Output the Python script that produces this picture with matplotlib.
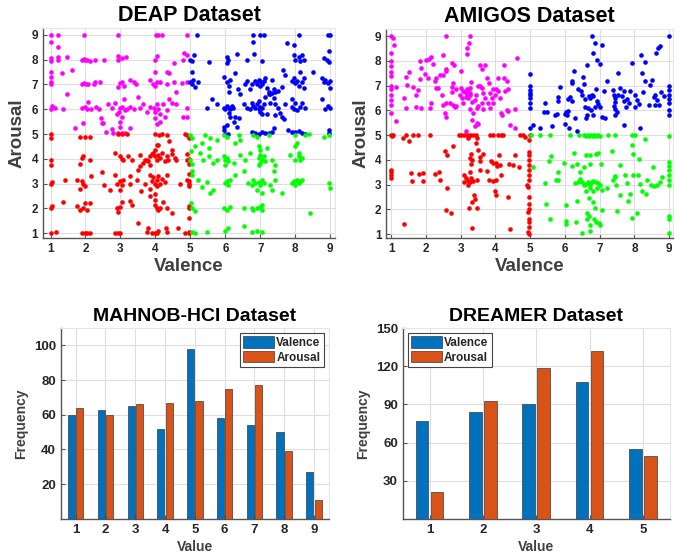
import numpy as np
import matplotlib.pyplot as plt

# ---- DEAP scatter (valence, arousal) ----
deap_magenta = [
    (1.0, 9.0), (1.22, 9.0), (1.96, 9.0), (2.92, 9.0), (4.03, 9.0), (4.08, 9.0), (4.18, 9.0), (4.9, 9.0),
    (1.0, 8.7), (1.22, 8.5), (1.0, 8.05), (1.0, 7.95), (1.22, 8.1), (1.22, 7.97), (1.46, 8.1),
    (1.62, 7.6), (1.34, 7.45), (1.9, 8.0), (1.96, 8.02), (2.0, 7.98), (2.05, 8.0), (2.13, 7.94),
    (2.27, 8.0), (2.53, 8.0), (2.94, 8.0), (3.03, 8.05), (3.16, 8.1), (2.94, 8.15), (4.0, 8.0),
    (4.04, 8.15), (4.33, 7.5), (4.38, 7.45), (4.52, 7.85), (4.8, 8.0), (4.9, 8.2), (4.82, 8.25),
    (1.0, 7.0), (1.0, 7.1), (1.0, 7.3), (1.0, 7.5), (1.9, 7.0), (1.96, 7.05), (2.02, 7.0),
    (2.08, 7.02), (2.27, 7.1), (2.42, 7.1), (2.23, 7.0), (2.94, 6.9), (2.99, 7.05), (3.04, 7.1),
    (3.1, 6.95), (3.27, 7.2), (3.4, 7.1), (3.45, 7.0), (3.85, 7.2), (3.92, 7.0), (4.0, 6.95),
    (4.04, 7.1), (4.0, 7.5), (4.14, 7.1), (4.33, 7.0), (4.52, 7.1), (4.6, 6.7), (4.75, 7.05),
    (4.9, 7.1), (1.46, 6.6),
    (1.0, 6.0), (1.05, 6.15), (1.12, 6.05), (1.36, 6.0), (1.9, 6.05), (1.98, 6.1), (2.03, 6.02),
    (2.08, 6.3), (2.17, 6.0), (2.3, 6.1), (2.4, 6.0), (2.45, 5.65), (2.5, 5.45), (2.65, 6.2),
    (2.75, 6.05), (2.84, 6.25), (2.95, 5.9), (3.0, 6.05), (3.05, 6.1), (3.12, 5.95), (3.2, 6.0),
    (2.9, 5.8), (3.03, 5.7), (3.1, 6.4), (3.27, 6.1), (3.4, 6.0), (3.51, 6.5), (3.56, 6.05),
    (3.65, 6.2), (3.75, 5.9), (3.85, 6.1), (3.95, 6.05), (4.0, 5.9), (4.04, 6.2), (4.08, 6.0),
    (4.13, 5.8), (4.0, 5.65), (4.13, 5.5), (4.23, 6.2), (4.33, 5.95), (4.28, 5.7), (4.38, 6.4),
    (4.47, 6.25), (4.6, 6.2), (4.8, 5.7), (4.9, 6.05), (4.9, 5.7), (4.04, 5.4),
    (1.7, 5.25), (1.94, 5.45), (2.47, 5.45), (2.6, 5.1), (2.75, 5.2), (2.8, 5.05), (2.94, 5.05),
    (3.04, 5.05), (3.13, 5.05), (2.99, 5.3), (3.27, 5.25), (2.99, 5.5),
]
deap_red = [
    (1.0, 5.0), (1.0, 4.85), (1.84, 4.9), (1.98, 4.9), (2.13, 4.9), (2.94, 5.0), (3.04, 5.0),
    (3.2, 5.02), (4.0, 5.0), (4.1, 4.95), (4.18, 5.0), (4.04, 4.55), (4.33, 4.97), (4.39, 4.7),
    (4.85, 5.0), (4.9, 4.95),
    (1.0, 3.95), (1.0, 3.75), (1.94, 4.1), (1.9, 4.05), (1.84, 3.8), (2.13, 3.95), (2.84, 4.25),
    (2.99, 4.1), (3.04, 4.0), (3.08, 3.95), (3.22, 4.1), (3.32, 3.95), (3.27, 3.3), (3.56, 3.7),
    (3.65, 3.85), (3.8, 3.9), (3.75, 3.95), (3.85, 4.1), (3.9, 4.2), (3.94, 4.25), (4.0, 4.1),
    (4.04, 3.95), (4.08, 4.15), (4.13, 4.05), (4.18, 4.25), (4.0, 4.35), (3.85, 3.75), (3.7, 3.95),
    (3.56, 4.15), (4.27, 3.9), (4.33, 4.1), (4.37, 3.95), (4.47, 4.2), (4.56, 4.05), (4.6, 3.95),
    (4.46, 4.35), (4.08, 4.55), (4.9, 4.2), (4.9, 3.95),
    (1.0, 3.0), (1.05, 3.05), (1.41, 3.15), (1.75, 3.15), (1.9, 3.1), (1.94, 3.0), (1.98, 2.9),
    (1.84, 2.8), (2.17, 3.3), (2.46, 3.45), (2.52, 2.95), (2.7, 2.75), (2.84, 3.35), (2.9, 3.0),
    (2.99, 3.1), (3.04, 2.95), (3.08, 3.15), (2.99, 2.75), (3.27, 3.0), (3.51, 3.55), (3.46, 3.15),
    (3.7, 3.0), (3.6, 2.7), (3.85, 3.35), (3.9, 3.1), (3.94, 3.25), (4.0, 3.0), (4.04, 3.15),
    (4.08, 3.3), (4.04, 2.9), (4.13, 3.0), (4.18, 3.2), (4.27, 3.05), (3.85, 2.8), (4.0, 2.6),
    (4.33, 3.35), (4.7, 3.0), (4.9, 3.15),
    (1.0, 2.0), (1.05, 2.1), (1.36, 2.25), (1.75, 2.08), (1.84, 1.95), (1.94, 2.0), (2.03, 1.95),
    (1.98, 2.2), (2.13, 2.2), (2.9, 2.0), (2.99, 2.05), (2.94, 1.85), (3.04, 2.25), (3.27, 2.3),
    (3.32, 2.15), (3.85, 2.5), (4.0, 2.35), (4.04, 2.0), (4.08, 1.95), (4.0, 2.15), (4.13, 2.0),
    (4.23, 2.25), (4.33, 2.0), (3.51, 1.4), (4.46, 1.8),
    (1.0, 1.0), (1.15, 1.05), (1.9, 1.0), (1.98, 1.0), (2.05, 1.0), (2.13, 1.0), (2.84, 1.0),
    (2.92, 1.0), (3.0, 1.0), (3.75, 1.05), (3.9, 1.0), (4.0, 1.0), (4.04, 1.0), (3.8, 1.2),
    (4.08, 1.1), (4.3, 1.2), (4.33, 1.05), (4.65, 1.2), (4.85, 1.0), (4.95, 1.0),
    (4.95, 4.85), (4.95, 4.0), (4.95, 3.8), (4.95, 3.4), (4.95, 3.1), (4.97, 3.0), (4.95, 2.9),
    (4.95, 2.1), (4.97, 2.0), (4.95, 1.6), (4.97, 1.05),
]
deap_blue = [
    (5.18, 9.0), (6.8, 9.0), (7.0, 9.0), (7.1, 9.0), (8.1, 9.0), (8.95, 9.0), (9.0, 9.0),
    (6.8, 8.72), (7.95, 8.6), (7.76, 8.68),
    (5.0, 8.0), (5.05, 7.95), (5.1, 8.2), (5.52, 7.9), (6.04, 8.1), (6.09, 8.0), (6.04, 7.87),
    (6.33, 8.23), (6.62, 7.98), (6.81, 8.23), (7.05, 7.95), (7.95, 8.2), (8.0, 8.0), (8.1, 8.1),
    (8.14, 7.95), (8.19, 8.2), (8.24, 8.0), (8.81, 8.07), (8.9, 8.0), (8.97, 8.35), (8.97, 7.9),
    (5.05, 7.5), (5.08, 7.2), (5.13, 6.9), (5.0, 7.1), (5.05, 7.0), (5.23, 7.1), (5.95, 7.3),
    (6.04, 7.1), (6.1, 6.95), (6.14, 7.2), (6.1, 6.7), (6.28, 7.45), (6.37, 6.8), (6.42, 6.6),
    (6.57, 7.0), (6.62, 7.12), (6.7, 6.8), (6.76, 7.0), (6.85, 7.12), (6.9, 7.0), (6.95, 7.2),
    (7.0, 7.12), (7.05, 7.0), (7.1, 7.12), (7.14, 7.25), (7.0, 6.95), (7.2, 6.85), (7.24, 6.7),
    (7.28, 6.6), (7.33, 7.2), (7.38, 6.8), (7.43, 6.7), (7.52, 6.75), (7.62, 6.9), (7.66, 7.6),
    (7.7, 7.4), (7.9, 7.12), (7.95, 7.25), (8.0, 7.05), (8.05, 7.15), (8.1, 6.95), (8.19, 7.1),
    (8.24, 7.25), (8.14, 7.5), (8.24, 6.85), (8.52, 7.5), (8.76, 7.25), (8.81, 7.1), (8.86, 7.2),
    (8.95, 7.06), (9.0, 7.12), (9.0, 6.85),
    (5.61, 6.4), (5.75, 6.2), (5.47, 6.05), (5.95, 6.05), (6.0, 6.0), (6.04, 6.12), (6.1, 6.05),
    (6.14, 6.0), (6.19, 6.12), (6.23, 6.05), (6.1, 5.85), (6.14, 5.7), (6.28, 5.7), (6.24, 5.5),
    (6.38, 5.65), (5.95, 5.3), (6.04, 5.38), (6.33, 5.3), (6.52, 6.2), (6.62, 6.05), (6.71, 6.0),
    (6.76, 6.25), (6.8, 6.12), (6.85, 6.05), (6.9, 6.2), (6.95, 6.0), (7.0, 6.1), (7.05, 6.05),
    (7.1, 6.2), (7.0, 5.9), (7.05, 5.8), (6.95, 6.35), (7.14, 6.5), (7.24, 6.6), (7.33, 6.65),
    (7.28, 6.25), (7.19, 5.8), (7.38, 6.45), (7.43, 6.2), (7.52, 6.05), (7.57, 5.85), (7.62, 5.7),
    (7.67, 5.6), (7.43, 5.75), (7.71, 6.2), (7.9, 6.1), (7.95, 6.0), (8.0, 6.25), (7.9, 6.4),
    (8.14, 6.1), (8.19, 6.25), (8.05, 5.95), (8.29, 6.05), (8.76, 6.4), (8.86, 6.0), (8.95, 6.12),
    (9.0, 6.05),
    (5.95, 5.17), (6.0, 4.99), (6.09, 5.02), (6.76, 5.1), (6.85, 5.05), (6.95, 5.02), (7.05, 5.1),
    (7.14, 5.05), (7.24, 5.05), (7.33, 5.1), (7.38, 5.25), (7.8, 5.17), (7.9, 5.1), (8.0, 5.08),
    (8.1, 5.14), (8.19, 5.05), (8.28, 5.02), (8.97, 5.17), (8.97, 5.04),
]
deap_green = [
    (5.0, 4.97), (5.05, 4.85), (5.42, 4.97), (5.56, 4.84), (5.75, 4.77), (5.95, 4.97), (6.04, 4.9),
    (6.38, 4.97), (6.8, 4.97), (6.9, 4.9), (7.24, 4.97), (8.0, 4.97), (8.29, 4.97), (8.38, 5.0),
    (8.81, 4.9), (8.97, 4.97), (5.13, 4.5), (5.32, 4.63), (5.52, 4.43), (6.28, 4.63), (6.42, 4.77),
    (6.95, 4.5), (7.0, 4.36), (7.19, 4.43), (8.0, 4.5), (8.05, 4.63),
    (5.0, 3.96), (5.05, 3.8), (5.28, 4.23), (5.37, 3.96), (5.52, 4.1), (5.66, 3.83), (5.75, 3.96),
    (5.95, 4.1), (6.0, 3.96), (6.04, 4.03), (6.09, 3.9), (6.0, 3.76), (6.24, 3.83), (6.42, 4.16),
    (6.57, 3.96), (6.7, 4.23), (6.95, 4.03), (7.0, 4.16), (7.05, 3.96), (7.1, 4.1), (7.14, 3.9),
    (7.0, 3.83), (6.95, 3.76), (7.33, 3.96), (7.43, 3.76), (7.85, 4.16), (8.0, 3.96), (8.1, 4.1),
    (8.14, 3.96), (8.19, 4.03), (8.1, 4.23),
    (5.04, 3.36), (5.23, 3.15), (5.32, 2.88), (5.47, 3.08), (5.56, 2.62), (5.66, 2.75), (6.0, 3.02),
    (6.04, 3.1), (6.09, 2.95), (6.14, 3.15), (6.28, 3.36), (6.52, 3.5), (6.66, 3.02), (6.76, 2.95),
    (6.8, 3.15), (6.85, 3.02), (6.95, 3.08), (7.0, 2.95), (7.05, 3.15), (7.1, 3.02), (6.9, 2.75),
    (7.05, 2.62), (7.28, 2.95), (7.33, 2.75), (7.43, 3.15), (7.38, 3.5), (7.62, 2.62), (7.9, 3.02),
    (7.95, 3.1), (8.0, 2.95), (8.05, 3.15), (8.1, 3.02), (8.14, 3.1), (8.19, 3.15), (8.97, 3.02),
    (9.0, 2.82),
    (5.04, 2.0), (5.13, 1.9), (5.95, 2.0), (6.04, 1.95), (6.14, 2.05), (6.52, 2.0), (6.76, 2.0),
    (6.8, 1.95), (6.9, 2.0), (7.0, 2.05), (7.05, 1.95), (7.05, 2.12), (8.43, 1.8),
    (5.04, 1.05), (5.13, 1.0), (5.47, 1.05), (6.0, 1.07), (6.09, 1.2), (6.52, 1.27), (6.76, 1.05),
    (6.9, 1.07), (7.05, 1.05), (5.03, 4.3), (5.05, 3.5), (5.03, 2.2),
]

# ---- AMIGOS scatter ----
amigos_magenta = [
    (1.0, 9.0), (1.04, 8.9), (1.08, 8.62), (2.57, 9.0), (3.28, 9.0), (3.24, 8.72), (3.17, 8.5),
    (3.19, 8.27), (1.0, 8.3), (1.0, 8.0), (1.0, 7.8), (1.0, 7.55), (1.0, 7.4), (1.0, 7.0),
    (1.0, 6.85), (1.0, 6.6), (1.0, 6.4), (1.0, 6.2), (1.0, 5.9), (1.15, 6.95), (1.15, 5.55),
    (1.82, 8.0), (1.87, 7.7), (2.01, 8.05), (2.08, 8.08), (2.16, 8.14), (2.2, 7.85), (2.5, 8.22),
    (2.59, 7.68), (2.74, 7.9), (2.8, 7.82), (3.02, 7.6), (3.55, 7.82), (3.62, 7.65), (3.7, 7.82),
    (4.24, 7.82), (4.63, 8.11),
    (1.36, 6.5), (1.42, 6.1), (1.42, 7.33), (1.52, 7.55), (1.47, 7.03), (1.62, 6.93), (1.72, 6.63),
    (1.77, 6.83), (1.72, 6.15), (1.82, 7.25), (1.87, 6.1), (1.97, 7.45), (2.07, 7.3), (2.11, 6.1),
    (2.16, 6.3), (2.25, 7.17), (2.29, 6.9), (2.29, 7.3), (2.4, 7.44), (2.35, 6.9), (2.5, 7.44),
    (2.59, 7.6), (2.45, 6.63), (2.48, 6.2), (2.55, 5.9), (2.57, 5.75), (2.74, 6.95), (2.79, 7.1),
    (2.74, 6.75), (2.86, 6.85), (2.57, 6.3), (2.7, 6.3), (2.78, 6.2), (2.83, 6.15), (2.88, 6.18),
    (2.98, 6.63), (3.0, 6.9), (3.07, 6.78), (3.12, 6.75), (3.17, 6.63), (3.21, 6.78), (3.26, 6.7),
    (3.15, 6.55), (3.21, 6.5), (3.28, 6.9), (3.31, 7.15), (3.28, 6.63), (3.17, 6.85), (3.05, 6.5),
    (3.07, 6.3), (3.34, 6.35), (3.4, 6.43), (3.43, 6.63), (3.5, 7.0), (3.55, 7.0), (3.62, 6.9),
    (3.65, 6.7), (3.7, 6.5), (3.6, 6.3), (3.5, 6.16), (3.46, 6.1), (3.28, 6.05), (3.36, 5.9),
    (3.34, 5.62), (3.46, 5.5), (3.5, 5.45), (3.41, 5.38), (3.15, 5.15), (3.76, 7.3), (3.82, 7.1),
    (3.92, 6.85), (4.01, 6.85), (3.84, 6.7), (3.89, 6.5), (3.78, 6.3), (3.93, 6.3), (3.98, 6.63),
    (4.08, 6.78), (4.13, 6.5), (4.08, 7.3), (4.24, 7.32), (4.32, 7.17), (4.27, 6.78), (4.37, 6.85),
    (4.2, 5.8), (4.17, 5.9), (4.32, 6.0), (4.37, 5.98), (4.56, 6.05), (4.41, 5.4), (4.56, 5.3),
    (3.84, 6.1), (3.65, 6.05),
]
amigos_red = [
    (1.0, 5.0), (1.02, 4.95), (1.05, 5.0), (1.33, 4.88), (1.42, 5.0), (1.52, 4.75), (1.63, 5.0),
    (1.78, 5.0), (2.13, 5.0), (2.96, 5.0), (3.02, 5.0), (3.09, 5.0), (3.17, 5.0), (3.24, 4.98),
    (3.28, 5.0), (3.36, 5.0), (3.44, 5.0), (3.22, 4.87), (3.46, 4.87), (3.84, 5.0), (3.93, 5.0),
    (4.08, 5.0), (4.17, 5.0), (4.22, 5.0), (4.7, 5.0), (4.78, 5.0), (4.85, 4.93), (4.99, 5.0),
    (2.55, 4.34), (2.6, 4.2), (2.77, 4.54), (3.44, 4.67), (3.5, 4.4), (3.31, 4.23), (3.28, 4.07),
    (3.34, 4.0), (3.31, 3.83), (3.57, 4.1), (3.65, 4.23), (3.86, 3.96), (3.93, 3.87), (4.03, 3.87),
    (4.05, 3.74), (4.1, 4.2), (4.38, 3.83), (4.5, 3.78), (4.57, 4.2), (4.68, 3.7),
    (1.0, 3.6), (1.0, 3.5), (1.0, 3.4), (1.0, 3.25), (1.56, 3.47), (1.61, 3.13), (1.8, 3.44),
    (1.92, 3.47), (1.92, 3.13), (2.26, 3.44), (2.38, 3.5), (2.42, 3.2), (2.6, 2.86), (3.09, 3.37),
    (3.15, 3.26), (3.09, 3.1), (3.21, 3.16), (3.28, 3.1), (3.36, 3.13), (3.31, 3.26), (3.21, 3.0),
    (3.28, 3.53), (3.55, 3.96), (3.55, 3.6), (3.46, 3.2), (3.76, 3.55), (3.82, 3.2), (3.93, 3.16),
    (4.03, 3.2), (4.13, 3.8), (4.17, 3.4), (3.98, 2.73), (4.01, 2.6), (4.37, 2.52),
    (3.38, 2.6), (3.41, 2.4), (3.33, 2.3), (3.25, 2.07), (3.47, 2.07), (2.58, 1.98), (2.72, 1.85),
    (1.36, 1.4), (3.33, 1.24), (4.42, 1.2),
    (4.98, 4.8), (4.97, 4.3), (4.98, 4.2), (4.97, 4.0), (4.98, 3.8), (4.97, 3.6), (4.98, 3.4),
    (4.97, 3.2), (4.9, 3.0), (4.95, 2.9), (4.97, 2.5), (4.98, 2.2), (4.97, 2.0), (4.95, 1.9),
    (4.98, 1.6), (4.97, 1.5), (4.98, 1.3), (4.95, 1.1), (4.98, 1.0),
]
amigos_blue = [
    (5.0, 7.45), (5.0, 7.0), (5.0, 6.8), (5.0, 6.7), (5.0, 6.6), (5.0, 6.5), (5.0, 6.3), (5.0, 6.1),
    (5.07, 5.42), (5.0, 5.28), (5.29, 5.28), (5.41, 5.93), (5.43, 6.3), (5.48, 5.93), (5.64, 5.35),
    (5.72, 5.8), (5.77, 5.85), (5.8, 6.52), (5.8, 6.38), (5.86, 6.93), (5.99, 5.85), (6.03, 5.93),
    (6.06, 5.82), (6.08, 5.98), (6.01, 5.45), (6.12, 5.3), (6.1, 6.47), (6.15, 6.52), (6.2, 6.38),
    (6.2, 7.1), (6.2, 7.2), (6.28, 5.7), (6.34, 5.15), (6.25, 7.6), (6.39, 6.87), (6.47, 6.76),
    (6.53, 7.33), (6.56, 7.06), (6.5, 6.63), (6.58, 6.47), (6.63, 7.84), (6.58, 6.15), (6.66, 6.1),
    (6.68, 6.57), (6.73, 6.5), (6.78, 6.63), (6.82, 6.57), (6.78, 9.0), (6.87, 8.7), (6.82, 8.3),
    (6.92, 8.05), (7.08, 8.65), (7.0, 7.87), (6.92, 6.38), (6.87, 6.15), (6.63, 5.8), (6.6, 5.67),
    (6.76, 6.0), (6.8, 5.8), (6.9, 6.87), (6.95, 6.25), (7.01, 6.12), (7.08, 5.75), (7.16, 5.7),
    (7.11, 6.79), (7.2, 7.2), (7.37, 6.83), (7.4, 6.63), (7.43, 6.5), (7.45, 6.34), (7.4, 6.17),
    (7.43, 6.04), (7.45, 5.82), (7.5, 5.93), (7.54, 6.63), (7.59, 6.9), (7.64, 6.57), (7.69, 6.36),
    (7.71, 6.76), (7.75, 6.12), (7.69, 5.42), (7.52, 7.5), (7.78, 6.47), (7.83, 6.3), (7.87, 6.77),
    (7.94, 7.9), (8.02, 6.12), (8.02, 6.63), (8.07, 6.43), (8.12, 6.26), (8.17, 5.3), (8.19, 8.22),
    (8.29, 7.96), (8.21, 7.5), (8.31, 7.17), (8.26, 6.74), (8.42, 6.23), (8.45, 7.03), (8.5, 7.23),
    (8.55, 6.52), (8.6, 6.63), (8.62, 8.31), (8.68, 8.52), (8.74, 8.58), (8.65, 6.43), (8.7, 6.23),
    (8.77, 6.74), (8.84, 6.57), (8.6, 6.23), (9.0, 9.0), (9.0, 6.97), (9.0, 6.8), (9.0, 6.6),
    (9.0, 6.45), (9.0, 6.3), (9.0, 6.0), (9.0, 5.8),
]
amigos_green = [
    (5.03, 5.0), (5.29, 5.0), (5.58, 5.0), (6.15, 5.0), (6.41, 5.0), (6.55, 5.0), (6.6, 4.95),
    (6.65, 5.0), (6.7, 4.95), (6.75, 5.0), (6.8, 4.95), (6.85, 5.0), (6.9, 4.95), (6.95, 5.0),
    (7.0, 4.95), (7.25, 5.0), (7.45, 5.0), (7.93, 5.0), (8.02, 5.0), (9.0, 4.95),
    (5.07, 3.7), (5.6, 4.14), (5.55, 3.96), (5.8, 3.5), (5.8, 3.2), (5.96, 3.87), (6.25, 4.27),
    (6.2, 3.77), (6.34, 3.82), (6.44, 3.5), (6.56, 3.7), (6.6, 4.2), (6.73, 3.82), (6.73, 4.2),
    (6.89, 4.23), (6.95, 4.27), (7.04, 3.82), (7.35, 4.36), (7.43, 3.36), (7.59, 3.8), (7.93, 4.6),
    (7.97, 4.23), (7.97, 3.4), (8.12, 4.04), (8.31, 4.84), (8.36, 3.2), (8.53, 3.7), (8.8, 3.3),
    (9.0, 3.9), (9.0, 3.75), (9.0, 3.6), (9.0, 3.4), (9.0, 3.2), (9.0, 3.0),
    (5.43, 3.06), (5.74, 3.2), (6.29, 3.06), (6.37, 3.12), (6.44, 3.23), (6.5, 3.1), (6.56, 2.98),
    (6.6, 3.04), (6.66, 3.1), (6.7, 3.08), (6.73, 2.98), (6.78, 3.12), (6.82, 3.15), (6.89, 3.1),
    (6.95, 3.06), (6.6, 2.75), (6.73, 2.86), (6.82, 2.75), (6.92, 2.88), (7.01, 3.0), (7.08, 2.8),
    (7.2, 2.86), (7.37, 3.2), (7.45, 3.3), (7.47, 3.0), (7.59, 2.6), (7.73, 3.4), (7.78, 3.06),
    (7.88, 2.62), (8.1, 3.37), (8.17, 3.02), (8.22, 2.73), (8.33, 2.62), (8.48, 3.0), (8.64, 3.0),
    (8.74, 3.12), (8.55, 2.95),
    (5.45, 2.2), (6.03, 2.18), (6.34, 2.35), (6.68, 2.45), (6.82, 2.28), (6.87, 2.05), (7.06, 1.98),
    (7.49, 1.94), (7.81, 2.32), (8.07, 1.85), (5.57, 1.6), (6.03, 1.53), (6.03, 1.4), (6.31, 1.5),
    (6.63, 1.85), (6.68, 1.72), (6.63, 1.63), (6.85, 1.6), (6.89, 1.5), (6.97, 1.47), (6.73, 1.38),
    (6.5, 1.04), (6.73, 1.13), (7.01, 1.38), (7.94, 1.67), (9.0, 1.75), (9.0, 1.62), (9.0, 1.05),
]

# ---- histograms ----
mahnob_values = [1, 2, 3, 4, 5, 6, 7, 8, 9]
mahnob_valence = [60, 63, 65, 52, 98, 58, 54, 50, 27]
mahnob_arousal = [64, 60, 66, 67, 68, 75, 77, 39, 11]

dreamer_values = [1, 2, 3, 4, 5]
dreamer_valence = [77, 84, 90, 108, 55]
dreamer_arousal = [21, 93, 119, 132, 49]

plt.rcParams['font.family'] = ['Liberation Sans', 'DejaVu Sans']
plt.rcParams['font.weight'] = 'bold'

TXT = '#262626'
GRID = '#dedede'
BLUE = '#0072BD'
ORANGE = '#D95319'


def style_axes(ax):
    ax.grid(True, color=GRID, linewidth=0.8)
    ax.set_axisbelow(True)
    for side in ['left', 'bottom']:
        ax.spines[side].set_color('#555555')
        ax.spines[side].set_linewidth(1.0)
    for side in ['top', 'right']:
        ax.spines[side].set_color('#e6e6e6')
        ax.spines[side].set_linewidth(0.8)
    ax.tick_params(direction='in', length=3, width=0.8, colors='#555555',
                   labelcolor=TXT, labelsize=8.5)
    for lab in ax.get_xticklabels() + ax.get_yticklabels():
        lab.set_fontweight('bold')


def scatter_panel(ax, groups, title, xlim, ylim):
    for pts, col in groups:
        arr = np.array(pts)
        ax.scatter(arr[:, 0], arr[:, 1], s=11, color=col, linewidths=0, zorder=3)
    ax.set_xlim(*xlim)
    ax.set_ylim(*ylim)
    ax.set_xticks(range(1, 10))
    ax.set_yticks(range(1, 10))
    style_axes(ax)
    ax.set_title(title, fontsize=15.5, fontweight='bold', color='black', pad=5)
    ax.set_xlabel('Valence', fontsize=13.5, fontweight='bold', color='#404040', labelpad=2)
    ax.set_ylabel('Arousal', fontsize=13.5, fontweight='bold', color='#404040', labelpad=4)


def bar_panel(ax, values, val, aro, title, ylim, yticks, legend_loc):
    x = np.array(values)
    w = 0.24
    ax.bar(x - 0.14, val, w, color=BLUE, edgecolor='#3a3a3a', linewidth=0.5,
           label='Valence', zorder=3)
    ax.bar(x + 0.14, aro, w, color=ORANGE, edgecolor='#3a3a3a', linewidth=0.5,
           label='Arousal', zorder=3)
    ax.set_xlim(0.5, len(values) + 0.5)
    ax.set_ylim(*ylim)
    ax.set_xticks(values)
    ax.set_yticks(yticks)
    style_axes(ax)
    ax.tick_params(axis='x', labelsize=9.5)
    ax.tick_params(axis='y', labelsize=9.5)
    for lab in ax.get_xticklabels() + ax.get_yticklabels():
        lab.set_fontweight('bold')
    ax.set_title(title, fontsize=14, fontweight='bold', color='black', pad=5)
    ax.set_xlabel('Value', fontsize=10, fontweight='bold', color='#404040', labelpad=3)
    ax.set_ylabel('Frequency', fontsize=10, fontweight='bold', color='#404040', labelpad=4)
    leg = ax.legend(loc=legend_loc, fontsize=8.5, handlelength=2.6, handleheight=1.1,
                    handletextpad=0.2, borderpad=0.3, labelspacing=0.15, fancybox=False,
                    framealpha=1, edgecolor='#444444', borderaxespad=0.4)
    leg.get_frame().set_linewidth(0.8)
    for t in leg.get_texts():
        t.set_fontweight('bold')
        t.set_color(TXT)


fig = plt.figure(figsize=(6.91, 5.59), dpi=100)

ax1 = fig.add_axes([0.062, 0.574, 0.423, 0.376])
scatter_panel(ax1, [(deap_magenta, '#ff00ff'), (deap_red, '#ff0000'),
                    (deap_blue, '#0000ff'), (deap_green, '#00ff00')],
              'DEAP Dataset', (0.78, 9.14), (0.8, 9.28))

ax2 = fig.add_axes([0.559, 0.574, 0.415, 0.374])
scatter_panel(ax2, [(amigos_magenta, '#ff00ff'), (amigos_red, '#ff0000'),
                    (amigos_blue, '#0000ff'), (amigos_green, '#00ff00')],
              'AMIGOS Dataset', (0.86, 9.11), (0.84, 9.28))

ax3 = fig.add_axes([0.088, 0.072, 0.388, 0.341])
bar_panel(ax3, mahnob_values, mahnob_valence, mahnob_arousal, 'MAHNOB-HCI Dataset',
          (0, 110), [20, 40, 60, 80, 100], 'upper right')

ax4 = fig.add_axes([0.583, 0.072, 0.386, 0.341])
bar_panel(ax4, dreamer_values, dreamer_valence, dreamer_arousal, 'DREAMER Dataset',
          (0, 150), [30, 60, 90, 120, 150], 'upper left')

fig.savefig('out.png', dpi=100)
